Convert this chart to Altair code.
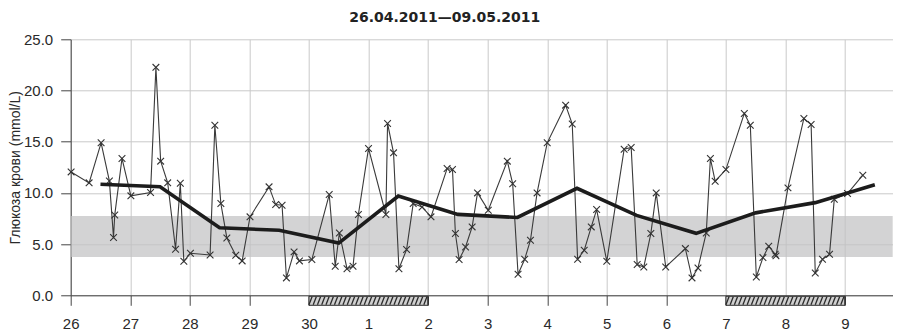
import altair as alt
import pandas as pd

# ---------------- data ----------------
reading_time = [
    "2011-04-26 00:10", "2011-04-26 07:25", "2011-04-26 12:15", "2011-04-26 15:35",
    "2011-04-26 17:15", "2011-04-26 17:45", "2011-04-26 20:40",
    "2011-04-27 00:15", "2011-04-27 08:10", "2011-04-27 10:20", "2011-04-27 12:15",
    "2011-04-27 15:05", "2011-04-27 18:15", "2011-04-27 20:10", "2011-04-27 21:35",
    "2011-04-28 00:15", "2011-04-28 08:10", "2011-04-28 10:05", "2011-04-28 12:30",
    "2011-04-28 14:55", "2011-04-28 18:30", "2011-04-28 21:05",
    "2011-04-29 00:15", "2011-04-29 07:55", "2011-04-29 10:35", "2011-04-29 13:10",
    "2011-04-29 14:55", "2011-04-29 18:00", "2011-04-29 20:10",
    "2011-04-30 01:10", "2011-04-30 08:10", "2011-04-30 10:35", "2011-04-30 12:15",
    "2011-04-30 15:20", "2011-04-30 17:45", "2011-04-30 19:55",
    "2011-05-01 00:00", "2011-05-01 07:00", "2011-05-01 07:40", "2011-05-01 10:05",
    "2011-05-01 12:15", "2011-05-01 15:20", "2011-05-01 18:00", "2011-05-01 21:35",
    "2011-05-02 01:10", "2011-05-02 07:40", "2011-05-02 09:50", "2011-05-02 11:00",
    "2011-05-02 12:30", "2011-05-02 15:05", "2011-05-02 17:45", "2011-05-02 19:55",
    "2011-05-03 00:15", "2011-05-03 07:55", "2011-05-03 10:05", "2011-05-03 12:15",
    "2011-05-03 14:55", "2011-05-03 17:15", "2011-05-03 19:55",
    "2011-05-04 00:00", "2011-05-04 07:25", "2011-05-04 10:05", "2011-05-04 12:15",
    "2011-05-04 14:55", "2011-05-04 17:45", "2011-05-04 19:55",
    "2011-05-05 00:00", "2011-05-05 07:00", "2011-05-05 09:50", "2011-05-05 12:15",
    "2011-05-05 14:55", "2011-05-05 17:45", "2011-05-05 19:55", "2011-05-05 23:45",
    "2011-05-06 07:40", "2011-05-06 10:20", "2011-05-06 12:45", "2011-05-06 16:05",
    "2011-05-06 17:45", "2011-05-06 19:40",
    "2011-05-07 00:00", "2011-05-07 07:25", "2011-05-07 09:50", "2011-05-07 12:15",
    "2011-05-07 14:55", "2011-05-07 17:15", "2011-05-07 19:50", "2011-05-07 20:10",
    "2011-05-08 01:00", "2011-05-08 07:25", "2011-05-08 10:20", "2011-05-08 12:00",
    "2011-05-08 14:55", "2011-05-08 17:45", "2011-05-08 19:40",
    "2011-05-09 01:00", "2011-05-09 07:10",
]
glucose = [
    12.05, 10.98, 14.89, 11.17, 5.64, 7.85, 13.36,
    9.71, 10.04, 22.26, 13.1, 10.98, 4.5, 10.95, 3.32,
    4.1, 3.94, 16.6, 8.96, 5.6, 3.91, 3.36,
    7.66, 10.59, 8.86, 8.8, 1.7, 4.24, 3.36,
    3.49, 9.84, 2.83, 6.09, 2.6, 2.83, 7.89,
    14.34, 7.89, 16.78, 13.91, 2.6, 4.47, 8.96, 8.63,
    7.66, 12.38, 12.28, 6.03, 3.49, 4.72, 6.68, 10.0,
    8.31, 13.1, 10.9, 2.05, 3.52, 5.38, 10.0,
    14.89, 18.57, 16.72, 3.52, 4.4, 6.68, 8.37,
    3.32, 14.27, 14.43, 3.0, 2.77, 6.03, 10.0, 2.77,
    4.56, 1.7, 2.67, 6.09, 13.36, 11.14,
    12.28, 17.76, 16.6, 1.79, 3.68, 4.79, 4.0, 3.85,
    10.49, 17.27, 16.68, 2.18, 3.52, 4.0, 9.38,
    9.94, 11.73,
]
mean_time = [
    "2011-04-26 12:00", "2011-04-27 12:00", "2011-04-28 12:00", "2011-04-29 12:00",
    "2011-04-30 12:00", "2011-05-01 12:00", "2011-05-02 12:00", "2011-05-03 12:00",
    "2011-05-04 12:00", "2011-05-05 12:00", "2011-05-06 12:00", "2011-05-07 12:00",
    "2011-05-08 12:00", "2011-05-09 12:00",
]
mean_glucose = [10.85, 10.6, 6.6, 6.35, 5.1, 9.7, 7.9, 7.6, 10.45, 7.8, 6.05, 8.05, 9.05, 10.8]

target_low = 3.75
target_high = 7.75
weekend_start = ["2011-04-30", "2011-05-07"]
weekend_end = ["2011-05-02", "2011-05-09"]
y_ticks = [0, 2.5, 5, 7.5, 10, 12.5, 15, 17.5, 20, 22.5, 25]
title_text = "26.04.2011\u201409.05.2011"
y_title = "Глюкоза крови (mmol/L)"

# ---------------- frames ----------------
readings = pd.DataFrame({"t": pd.to_datetime(reading_time), "v": glucose})
means = pd.DataFrame({"t": pd.to_datetime(mean_time), "v": mean_glucose})
band = pd.DataFrame({"lo": [target_low], "hi": [target_high]})
weekends = pd.DataFrame({"t": pd.to_datetime(weekend_start), "t2": pd.to_datetime(weekend_end)})

hatch_rows = []
for s, e in zip(weekends["t"], weekends["t2"]):
    step = pd.Timedelta(days=1) / 14
    k = 0
    while s + step * k < e:
        a = s + step * k
        b = min(a + pd.Timedelta(minutes=75), e)
        hatch_rows.append({"t": a, "t2": b})
        k += 1
hatch = pd.DataFrame(hatch_rows)

W, H = 822, 256
x_scale = alt.Scale(
    domain=[alt.DateTime(year=2011, month=4, date=26),
            alt.DateTime(year=2011, month=5, date=9, hours=19, minutes=12)],
    nice=False,
)
y_scale = alt.Scale(domain=[0, 25], nice=False)

x_axis = alt.Axis(
    title=None, format="%-d", formatType="time",
    tickCount={"interval": "day", "step": 1},
    labelFlush=False, labelOverlap=False,
    grid=True, gridColor="#c9c9c9", gridWidth=1,
    domainColor="#444", tickColor="#444", tickSize=10,
    labelPadding=11, labelFontSize=15, labelFont="Liberation Sans", labelColor="#2a2a2a",
)
y_axis = alt.Axis(
    title=y_title, values=y_ticks, format=".1f",
    grid=True, gridColor="#c9c9c9", gridWidth=1,
    domainColor="#444", tickColor="#444", tickSize=10,
    labelPadding=8, labelFontSize=15, labelFont="Liberation Sans", labelColor="#2a2a2a",
    titleFont="Liberation Sans", titleFontSize=14, titleFontWeight="normal",
    titleColor="#2a2a2a", titleX=-51, titleY=H / 2, titleBaseline="alphabetic",
    titleAngle=270,
)

band_layer = alt.Chart(band).mark_rect(color="#c2c2c4", opacity=0.72).encode(
    x=alt.value(0), x2=alt.value(W),
    y=alt.Y("lo:Q", scale=y_scale, axis=y_axis),
    y2="hi:Q",
)

line_layer = alt.Chart(readings).mark_line(color="#3a3a3a", strokeWidth=1.1).encode(
    x=alt.X("t:T", scale=x_scale, axis=x_axis),
    y=alt.Y("v:Q", scale=y_scale),
)

cross = "M-1,-1L1,1M-1,1L1,-1"
point_layer = alt.Chart(readings).mark_point(
    shape=cross, filled=False, size=45, stroke="#333", strokeWidth=1.1, opacity=1
).encode(
    x=alt.X("t:T", scale=x_scale),
    y=alt.Y("v:Q", scale=y_scale),
)

mean_layer = alt.Chart(means).mark_line(color="#1c1c1c", strokeWidth=3.6).encode(
    x=alt.X("t:T", scale=x_scale),
    y=alt.Y("v:Q", scale=y_scale),
)

weekend_layer = alt.Chart(weekends).mark_rect(fill="#d0d0d0", stroke="#2a2a2a", strokeWidth=1).encode(
    x=alt.X("t:T", scale=x_scale), x2="t2:T",
    y=alt.value(H + 1), y2=alt.value(H + 10),
)

hatch_layer = alt.Chart(hatch).mark_rule(color="#2a2a2a", strokeWidth=1.3).encode(
    x=alt.X("t:T", scale=x_scale), x2="t2:T",
    y=alt.value(H + 9.5), y2=alt.value(H + 1.5),
)

chart = alt.layer(
    band_layer, line_layer, point_layer, mean_layer, weekend_layer, hatch_layer
).properties(
    width=W, height=H,
    autosize=alt.AutoSizeParams(type="none"),
    padding={"left": 62.7, "top": 31.3, "right": 0, "bottom": 35},
    title=alt.TitleParams(
        text=title_text, font="DejaVu Sans", fontSize=14, fontWeight="bold",
        color="#222", anchor="middle", frame="group", dx=-37, offset=7,
    ),
    background="white",
).configure_view(stroke=None)

chart.save("out.html", embed_options={"renderer": "svg", "actions": False})
